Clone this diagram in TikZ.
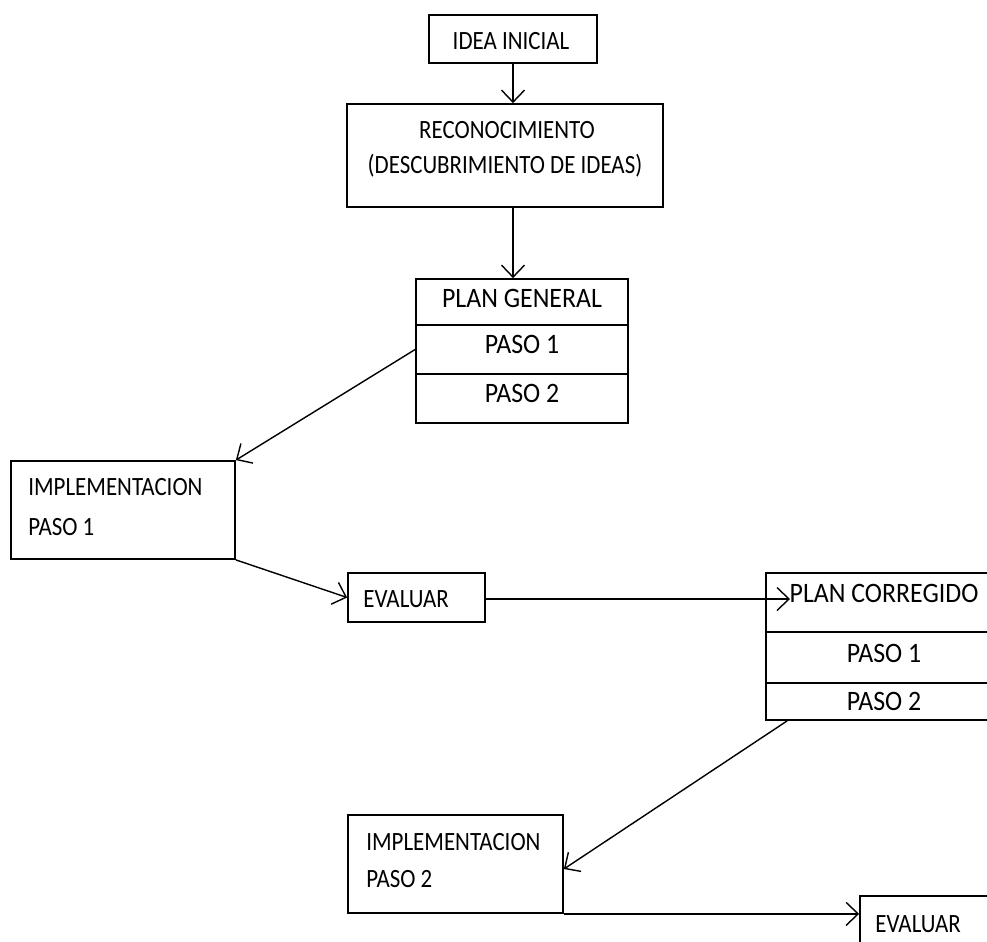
\documentclass[tikz,border=0pt]{standalone}
\usepackage{fontspec}
\setmainfont{Carlito}
\newfontfamily\smfont{Carlito}[FakeStretch=0.87]
\newfontfamily\bgfont{Carlito}[FakeStretch=0.92]
\usetikzlibrary{arrows.meta,fit,calc}

\tikzset{
  box/.style={draw,line width=1pt,inner sep=0pt},
  sm/.style={inner sep=0pt,anchor=base,font=\smfont\fontsize{15}{18}\selectfont},
  smw/.style={sm,anchor=base west},
  bg/.style={inner sep=0pt,anchor=base,font=\bgfont\fontsize{16}{19}\selectfont},
  arr/.style={line width=0.8pt,-{Straight Barb[length=2.4mm,width=4.6mm]}}
}

\begin{document}
\begin{tikzpicture}[x=0.02cm,y=-0.02cm]
    \useasboundingbox (0,0) rectangle (987,941);
    \clip (0,0) rectangle (987,941);
    % top
    \node[box,fit={(429,15) (597,63)}] (idea) {};
    \node[sm] (ideatxt) at (511,49) {IDEA INICIAL};
    \node[box,fit={(347,104) (663,207)}] (recon) {};
    \node[sm] (recontxta) at (507,138) {RECONOCIMIENTO};
    \node[sm] (recontxtb) at (505,173) {(DESCUBRIMIENTO DE IDEAS)};
    % plan general
    \node[box,fit={(416,279) (628,325)}] (plan) {};
    \node[box,fit={(416,325) (628,374)}] (plana) {};
    \node[box,fit={(416,374) (628,423)}] (planb) {};
    \node[bg] (plantxt) at (522,307) {PLAN GENERAL};
    \node[bg] (planatxt) at (522,353) {PASO 1};
    \node[bg] (planbtxt) at (522,402) {PASO 2};
    % first round
    \node[box,fit={(11,461) (235,559)}] (impla) {};
    \node[smw] (implatxt) at (28,495) {IMPLEMENTACION};
    \node[smw] (implatxtb) at (28,535) {PASO 1};
    \node[box,fit={(348,573) (485,622)}] (evala) {};
    \node[smw] (evalatxt) at (363,607) {EVALUAR};
    % plan corregido
    \node[box,fit={(766,573) (1002,632)}] (corr) {};
    \node[box,fit={(766,632) (1002,683)}] (corra) {};
    \node[box,fit={(766,683) (1002,720)}] (corrb) {};
    \node[bg] (corrtxt) at (884,602) {PLAN CORREGIDO};
    \node[bg] (corratxt) at (884,662) {PASO 1};
    \node[bg] (corrbtxt) at (884,710) {PASO 2};
    % second round
    \node[box,fit={(348,815) (563,913)}] (implb) {};
    \node[smw] (implbtxt) at (366,850) {IMPLEMENTACION};
    \node[smw] (implbtxtb) at (366,887) {PASO 2};
    \node[box,fit={(860,896) (1010,970)}] (evalb) {};
    \node[smw] (evalbtxt) at (875,932) {EVALUAR};
    \coordinate (corrin) at (790,599);
    \coordinate (corrout) at ($(corrb.south west)+(22,0)$);
    % arrows
    \draw[arr] (idea.south) -- (idea.south |- recon.north);
    \draw[arr] (idea.south |- recon.south) -- (idea.south |- plan.north);
    \draw[arr] (plana.west) -- (impla.north east);
    \draw[arr] (impla.south east) -- (evala.west);
    \draw[arr] (evala.east |- corrin) -- (corrin);
    \draw[arr] (corrout) -- ($(implb.east)+(0,5)$);
    \draw[arr] (implb.south east) -- (implb.south east -| evalb.west);
\end{tikzpicture}
\end{document}
